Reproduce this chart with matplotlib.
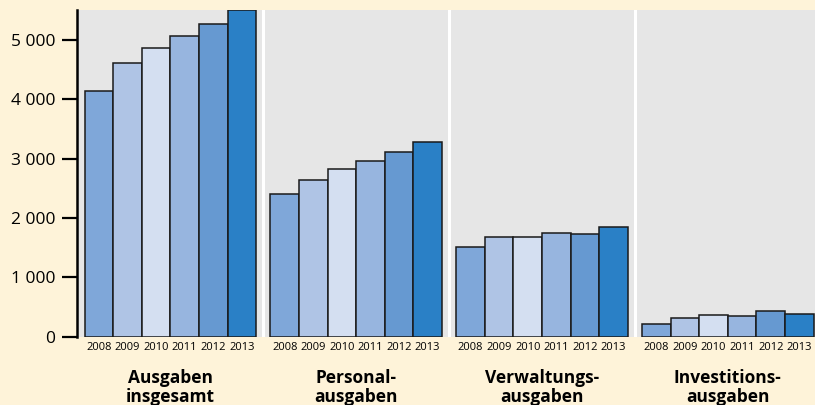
"""Ausgaben nach Ausgabearten 2008-2013 als gruppiertes Säulendiagramm."""

import matplotlib
matplotlib.use("Agg")
import matplotlib.pyplot as plt
import numpy as np

plt.rcParams["font.family"] = ["Open Sans", "DejaVu Sans"]

# Data
years = ["2008", "2009", "2010", "2011", "2012", "2013"]
groups = ["Ausgaben\ninsgesamt", "Personal-\nausgaben", "Verwaltungs-\nausgaben", "Investitions-\nausgaben"]
ausgaben_insgesamt = [4145, 4617, 4865, 5067, 5265, 5500]
personalausgaben = [2408, 2634, 2825, 2965, 3111, 3275]
verwaltungsausgaben = [1514, 1673, 1683, 1750, 1723, 1841]
investitionsausgaben = [211, 312, 357, 346, 425, 385]
yticks = [0, 1000, 2000, 3000, 4000, 5000]
ytick_labels = ["0", "1 000", "2 000", "3 000", "4 000", "5 000"]

series = [ausgaben_insgesamt, personalausgaben, verwaltungsausgaben, investitionsausgaben]
year_colors = ["#7FA7D9", "#AFC4E5", "#D4DFF1", "#97B5DF", "#6699D1", "#2A80C6"]
cream = "#FEF3D9"
gray = "#E6E6E6"

fig = plt.figure(figsize=(8.15, 4.05), dpi=100, facecolor=cream)
ax = fig.add_axes([0.095, 0.169, 0.905, 0.806])
ax.set_facecolor(cream)

step = 6.5
for g, values in enumerate(series):
    start = g * step
    # gray panel behind each group
    ax.axvspan(start - 0.25, start + 6.25, color=gray, zorder=0, lw=0)
    if g > 0:
        ax.axvline(start - 0.25, color="white", lw=2.2, zorder=1)
    x = start + 0.5 + np.arange(len(years))
    ax.bar(x, values, width=1.0, color=year_colors, edgecolor="#1a1a1a",
           linewidth=1.1, zorder=2)
    for xi, yr in zip(x, years):
        ax.text(xi, -190, yr, ha="center", va="center", fontsize=8,
                clip_on=False)
    ax.text(start + 3, -860, groups[g], ha="center", va="center",
            fontsize=12.5, fontweight="bold", linespacing=1.05, clip_on=False)

ax.set_xlim(-0.25, 25.55)
ax.set_ylim(0, 5506)
ax.set_xticks([])
ax.set_yticks(yticks)
ax.set_yticklabels(ytick_labels, fontsize=12.5)
ax.tick_params(axis="y", direction="out", length=11, width=1.6, pad=5)
for side in ["top", "right", "bottom"]:
    ax.spines[side].set_visible(False)
ax.spines["left"].set_linewidth(1.8)

fig.savefig("out.png", dpi=100, facecolor=cream)
